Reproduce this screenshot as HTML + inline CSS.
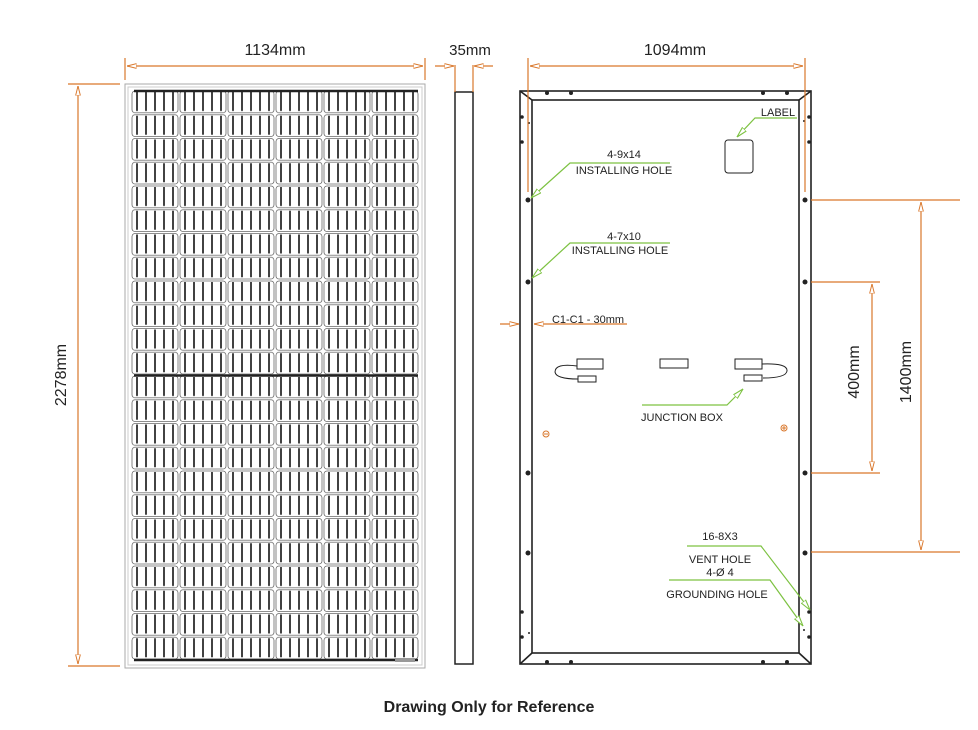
<!DOCTYPE html>
<html><head><meta charset="utf-8"><style>
html,body{margin:0;padding:0;background:#fff}
svg{display:block}
text{font-family:"Liberation Sans",sans-serif;fill:#222}
</style></head><body>
<svg width="978" height="730" viewBox="0 0 978 730" xmlns="http://www.w3.org/2000/svg">
<defs>
<pattern id="cell" x="131" y="90" width="48" height="23.75" patternUnits="userSpaceOnUse">
<rect x="1" y="1" width="46" height="21.75" rx="3" fill="none" stroke="#666" stroke-width="0.8"/>
<g stroke="#111" stroke-width="1.6">
<line x1="6" y1="2" x2="6" y2="21"/><line x1="15" y1="2" x2="15" y2="21"/><line x1="24" y1="2" x2="24" y2="21"/><line x1="33" y1="2" x2="33" y2="21"/><line x1="42" y1="2" x2="42" y2="21"/>
</g>
</pattern>
<marker id="ar" viewBox="0 0 10 6" refX="10" refY="3" markerWidth="8" markerHeight="5" orient="auto-start-reverse"><path d="M0,0.5 L10,3 L0,5.5 Z" fill="#fff" stroke="#d9772b" stroke-width="1"/></marker>
<marker id="ag" viewBox="0 0 10 6" refX="10" refY="3" markerWidth="9" markerHeight="6" orient="auto"><path d="M0,0.5 L10,3 L0,5.5 Z" fill="#fff" stroke="#7dc242" stroke-width="1"/></marker>
</defs>

<rect x="125" y="84" width="300" height="584" fill="#fff" stroke="#aaa" stroke-width="1"/>
<rect x="128" y="87" width="294" height="578" fill="none" stroke="#ccc" stroke-width="1"/>
<rect x="131" y="90" width="288" height="285" fill="url(#cell)"/>
<rect x="131" y="376" width="288" height="285" fill="url(#cell)"/>
<g stroke="#222" stroke-width="2.5">
<line x1="134" y1="91" x2="418" y2="91"/>
<line x1="134" y1="375.5" x2="418" y2="375.5"/>
<line x1="134" y1="660" x2="418" y2="660"/>
</g>
<rect x="395" y="658" width="20" height="4" fill="#999"/>

<rect x="455" y="92" width="18" height="572" fill="#fff" stroke="#222" stroke-width="1.5"/>

<g fill="none" stroke="#222" stroke-width="1.6">
<rect x="520" y="91" width="291" height="573"/>
<rect x="532" y="100" width="267" height="553"/>
<line x1="520" y1="91" x2="532" y2="100"/><line x1="811" y1="91" x2="799" y2="100"/>
<line x1="520" y1="664" x2="532" y2="653"/><line x1="811" y1="664" x2="799" y2="653"/>
</g>
<g fill="#222">
<circle cx="547" cy="93" r="2"/><circle cx="571" cy="93" r="2"/><circle cx="763" cy="93" r="2"/><circle cx="787" cy="93" r="2"/>
<circle cx="547" cy="662" r="2"/><circle cx="571" cy="662" r="2"/><circle cx="763" cy="662" r="2"/><circle cx="787" cy="662" r="2"/>
<circle cx="522" cy="117" r="1.8"/><circle cx="522" cy="142" r="1.8"/><circle cx="809" cy="117" r="1.8"/><circle cx="809" cy="142" r="1.8"/>
<circle cx="522" cy="612" r="1.8"/><circle cx="522" cy="637" r="1.8"/><circle cx="809" cy="612" r="1.8"/><circle cx="809" cy="637" r="1.8"/>
<circle cx="529" cy="123" r="1"/><circle cx="804" cy="121" r="1"/><circle cx="529" cy="633" r="1"/><circle cx="804" cy="630" r="1"/>
<circle cx="528" cy="200" r="2.5"/><circle cx="805" cy="200" r="2.5"/>
<circle cx="528" cy="282" r="2.5"/><circle cx="805" cy="282" r="2.5"/>
<circle cx="528" cy="473" r="2.5"/><circle cx="805" cy="473" r="2.5"/>
<circle cx="528" cy="553" r="2.5"/><circle cx="805" cy="553" r="2.5"/>
</g>
<rect x="725" y="140" width="28" height="33" rx="3" fill="none" stroke="#222" stroke-width="1"/>
<g fill="none" stroke="#222" stroke-width="1">
<rect x="577" y="359" width="26" height="10"/>
<rect x="660" y="359" width="28" height="9"/>
<rect x="735" y="359" width="27" height="10"/>
<path d="M577,366 Q555,363 555,372 Q556,379 578,379"/>
<rect x="578" y="376" width="18" height="6"/>
<path d="M762,364 Q788,363 787,371 Q786,378 763,378"/>
<rect x="744" y="375" width="18" height="6"/>
</g>
<g fill="none" stroke="#d9772b" stroke-width="1">
<circle cx="546" cy="434" r="3"/><line x1="544" y1="434" x2="548" y2="434"/>
<circle cx="784" cy="428" r="3"/><line x1="782" y1="428" x2="786" y2="428"/><line x1="784" y1="426" x2="784" y2="430"/>
</g>

<g stroke="#d9772b" stroke-width="1.2" fill="none">
<line x1="125" y1="58" x2="125" y2="80"/><line x1="425" y1="58" x2="425" y2="80"/>
<line x1="127" y1="66" x2="423" y2="66" marker-start="url(#ar)" marker-end="url(#ar)"/>
<line x1="455" y1="65" x2="455" y2="92"/><line x1="473" y1="65" x2="473" y2="92"/>
<line x1="435" y1="66" x2="454" y2="66" marker-end="url(#ar)"/><line x1="493" y1="66" x2="474" y2="66" marker-end="url(#ar)"/>
<line x1="528" y1="58" x2="528" y2="192"/><line x1="805" y1="58" x2="805" y2="192"/>
<line x1="530" y1="66" x2="803" y2="66" marker-start="url(#ar)" marker-end="url(#ar)"/>
<line x1="68" y1="84" x2="120" y2="84"/><line x1="68" y1="666" x2="120" y2="666"/>
<line x1="78" y1="86" x2="78" y2="664" marker-start="url(#ar)" marker-end="url(#ar)"/>
<line x1="811" y1="282" x2="880" y2="282"/><line x1="811" y1="473" x2="880" y2="473"/>
<line x1="872" y1="284" x2="872" y2="471" marker-start="url(#ar)" marker-end="url(#ar)"/>
<line x1="811" y1="200" x2="960" y2="200"/><line x1="811" y1="552" x2="960" y2="552"/>
<line x1="921" y1="202" x2="921" y2="550" marker-start="url(#ar)" marker-end="url(#ar)"/>
<line x1="500" y1="324" x2="519" y2="324" marker-end="url(#ar)"/>
<line x1="627" y1="324" x2="534" y2="324" marker-end="url(#ar)"/>
</g>
<text x="275" y="55" font-size="16" text-anchor="middle">1134mm</text>
<text x="470" y="55" font-size="15" text-anchor="middle">35mm</text>
<text x="675" y="55" font-size="16" text-anchor="middle">1094mm</text>
<text transform="translate(66,375) rotate(-90)" font-size="16" text-anchor="middle">2278mm</text>
<text transform="translate(859,372) rotate(-90)" font-size="16" text-anchor="middle">400mm</text>
<text transform="translate(911,372) rotate(-90)" font-size="16" text-anchor="middle">1400mm</text>

<g stroke="#7dc242" stroke-width="1.2" fill="none">
<polyline points="797,118 755,118 737,137" marker-end="url(#ag)"/>
<polyline points="670,163 570,163 531,198" marker-end="url(#ag)"/>
<polyline points="670,243 570,243 532,278" marker-end="url(#ag)"/>
<polyline points="642,405 727,405 743,389" marker-end="url(#ag)"/>
<polyline points="687,546 761,546 810,610" marker-end="url(#ag)"/>
<polyline points="669,580 770,580 803,626" marker-end="url(#ag)"/>
</g>
<g font-size="11" text-anchor="middle">
<text x="778" y="116">LABEL</text>
<text x="624" y="158">4-9x14</text>
<text x="624" y="174">INSTALLING HOLE</text>
<text x="624" y="240">4-7x10</text>
<text x="620" y="254">INSTALLING HOLE</text>
<text x="588" y="323">C1-C1 - 30mm</text>
<text x="682" y="421">JUNCTION BOX</text>
<text x="720" y="540">16-8X3</text>
<text x="720" y="563">VENT HOLE</text>
<text x="720" y="576">4-Ø 4</text>
<text x="717" y="598">GROUNDING HOLE</text>
</g>
<text x="489" y="712" font-size="16" font-weight="bold" text-anchor="middle">Drawing Only for Reference</text>
</svg>
</body></html>
